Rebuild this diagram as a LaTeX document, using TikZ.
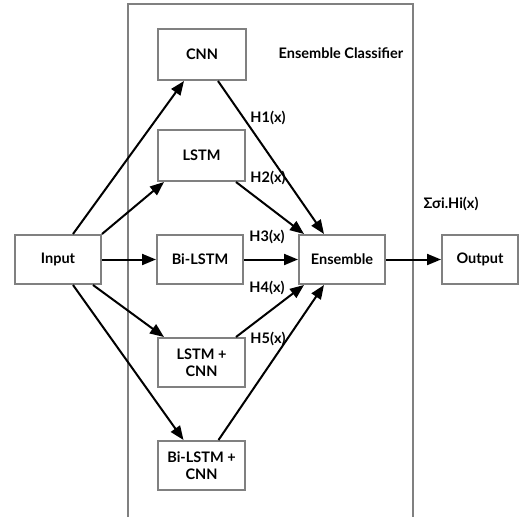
\documentclass[tikz,border=0pt]{standalone}
\usepackage{fontspec}
\setmainfont{Lato}
\usetikzlibrary{arrows.meta,calc}
\begin{document}
\begin{tikzpicture}[x=1pt,y=-1pt,
  box/.style={draw=black!50,line width=2pt,fill=white,minimum width=86pt,minimum height=49pt,inner sep=0pt,align=center,font=\fontsize{14.5}{17}\selectfont\bfseries},
  conn/.style={line width=2pt,-{Triangle[length=14pt,width=11pt]}},
  lbl/.style={font=\fontsize{14.5}{17}\selectfont\bfseries,inner sep=0pt}]
\useasboundingbox (0,0) rectangle (526,517);
\draw[black!50,line width=2pt] (128,517) -- (128,4) -- (413,4) -- (413,517);
\node[box,minimum width=88pt,minimum height=51pt] (cnn) at (202,54.5) {CNN};
\node[box,minimum width=87pt,minimum height=51pt] (lstm) at (201.5,155.5) {LSTM};
\node[box] (bilstm) at (200,259.5) {Bi-LSTM};
\node[box] (input) at (58,259.5) {Input};
\node[box] (ens) at (342,259.5) {Ensemble};
\node[box,minimum width=76pt] (out) at (480,259.5) {Output};
\node[box,minimum width=87pt] (lc) at (201.5,362.5) {LSTM +\\CNN};
\node[box,minimum width=87pt] (blc) at (201.5,465.5) {Bi-LSTM +\\CNN};
\node[lbl] (title) at (341,53) {Ensemble Classifier};
\node[lbl] (h1) at (268,118) {H1(x)};
\node[lbl] (h2) at (268,178) {H2(x)};
\node[lbl] (h3) at (267,237) {H3(x)};
\node[lbl] (h4) at (267,288) {H4(x)};
\node[lbl] (h5) at (268,339) {H5(x)};
\node[lbl] (sum) at (451,204) {Σσi.Hi(x)};
\draw[conn] ($(input.north)+(15,0)$) -- ($(cnn.south)+(-18,0)$);
\draw[conn] (input.north east) -- ($(lstm.south west)+(7,0)$);
\draw[conn] (input.east) -- (bilstm.west);
\draw[conn] ($(input.south east)+(-9,0)$) -- ($(lc.north west)+(7,0)$);
\draw[conn] ($(input.south)+(15,0)$) -- ($(blc.north)+(-18,0)$);
\draw[conn] ($(cnn.south)+(16,0)$) -- ($(ens.north)+(-18,0)$);
\draw[conn] ($(lstm.south east)+(-10,0)$) -- ($(ens.north west)+(6,0)$);
\draw[conn] (bilstm.east) -- (ens.west);
\draw[conn] ($(lc.north east)+(-10,0)$) -- ($(ens.south west)+(6,0)$);
\draw[conn] ($(blc.north)+(17,0)$) -- ($(ens.south)+(-18,0)$);
\draw[conn] (ens.east) -- (out.west);
\end{tikzpicture}
\end{document}
